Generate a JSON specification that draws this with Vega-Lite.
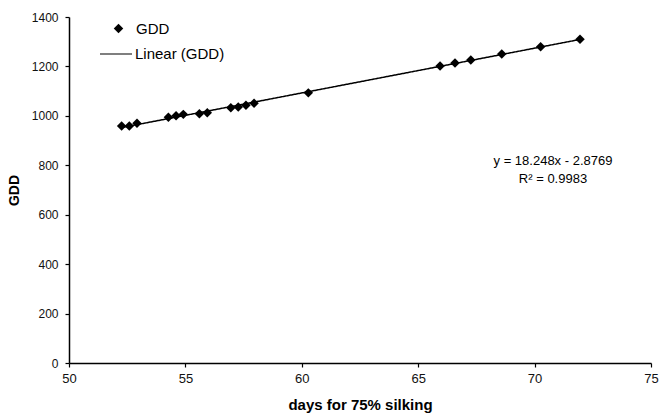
{
  "$schema": "https://vega.github.io/schema/vega-lite/v6.json",
  "autosize": "none",
  "width": 582,
  "height": 346,
  "padding": {"left": 69, "top": 17, "right": 9, "bottom": 51},
  "background": "white",
  "config": {
    "font": "Liberation Sans",
    "view": {"stroke": null},
    "axis": {
      "grid": false,
      "labelFlush": false,
      "domainColor": "black",
      "domainWidth": 1.5,
      "tickColor": "black",
      "tickWidth": 1.2,
      "tickSize": 4,
      "labelColor": "#111",
      "labelFont": "Liberation Sans",
      "titleFont": "Liberation Sans",
      "titleFontWeight": "bold",
      "titleColor": "black"
    }
  },
  "data": {
    "values": [
      {"days": 52.26, "GDD": 959},
      {"days": 52.59, "GDD": 959},
      {"days": 52.92, "GDD": 970},
      {"days": 54.27, "GDD": 994},
      {"days": 54.60, "GDD": 1000},
      {"days": 54.91, "GDD": 1006},
      {"days": 55.60, "GDD": 1009},
      {"days": 55.94, "GDD": 1013},
      {"days": 56.95, "GDD": 1033},
      {"days": 57.27, "GDD": 1036},
      {"days": 57.60, "GDD": 1043},
      {"days": 57.95, "GDD": 1051},
      {"days": 60.28, "GDD": 1093},
      {"days": 65.94, "GDD": 1202},
      {"days": 66.58, "GDD": 1214},
      {"days": 67.26, "GDD": 1226},
      {"days": 68.59, "GDD": 1250},
      {"days": 70.26, "GDD": 1280},
      {"days": 71.95, "GDD": 1310}
    ]
  },
  "encoding": {
    "x": {
      "field": "days",
      "type": "quantitative",
      "title": "days for 75% silking",
      "scale": {"domain": [50, 75], "nice": false, "zero": false},
      "axis": {
        "values": [50, 55, 60, 65, 70, 75],
        "labelFontSize": 13,
        "labelPadding": 5,
        "titleFontSize": 15,
        "titlePadding": 12
      }
    },
    "y": {
      "field": "GDD",
      "type": "quantitative",
      "title": "GDD",
      "scale": {"domain": [0, 1400], "nice": false},
      "axis": {
        "values": [0, 200, 400, 600, 800, 1000, 1200, 1400],
        "format": "d",
        "labelFontSize": 12,
        "labelPadding": 7,
        "titleFontSize": 14,
        "titleAngle": -90,
        "titleAlign": "center",
        "titleBaseline": "alphabetic",
        "titleX": -51,
        "titleY": 173
      }
    }
  },
  "layer": [
    {
      "transform": [{"regression": "GDD", "on": "days"}],
      "mark": {"type": "line", "color": "black", "strokeWidth": 1.5},
      "encoding": {
        "strokeDash": {
          "datum": "Linear (GDD)",
          "scale": {"range": [[1, 0]]},
          "legend": {
            "title": null,
            "orient": "none",
            "legendX": 30,
            "legendY": 20,
            "padding": 0,
            "symbolType": "stroke",
            "symbolSize": 1024,
            "symbolStrokeColor": "black",
            "symbolStrokeWidth": 1.2,
            "labelFontSize": 15,
            "labelColor": "black",
            "labelOffset": 2
          }
        }
      }
    },
    {
      "mark": {"type": "point", "shape": "diamond", "filled": true, "color": "black", "size": 90, "opacity": 1},
      "encoding": {
        "shape": {
          "datum": "GDD",
          "scale": {"range": ["diamond"]},
          "legend": {
            "title": null,
            "orient": "none",
            "legendX": 42,
            "legendY": 4,
            "padding": 0,
            "symbolSize": 90,
            "symbolFillColor": "black",
            "symbolStrokeColor": "black",
            "symbolOpacity": 1,
            "labelFontSize": 15,
            "labelColor": "black",
            "labelOffset": 10
          }
        }
      }
    },
    {
      "data": {"values": [{"line": "y = 18.248x - 2.8769", "days": 70.79, "GDD": 817}]},
      "mark": {"type": "text", "fontSize": 13, "color": "black", "align": "center", "baseline": "middle"},
      "encoding": {
        "text": {"field": "line"}
      }
    },
    {
      "data": {"values": [{"line": "R² = 0.9983", "days": 70.79, "GDD": 745}]},
      "mark": {"type": "text", "fontSize": 13, "color": "black", "align": "center", "baseline": "middle"},
      "encoding": {
        "text": {"field": "line"}
      }
    }
  ]
}
